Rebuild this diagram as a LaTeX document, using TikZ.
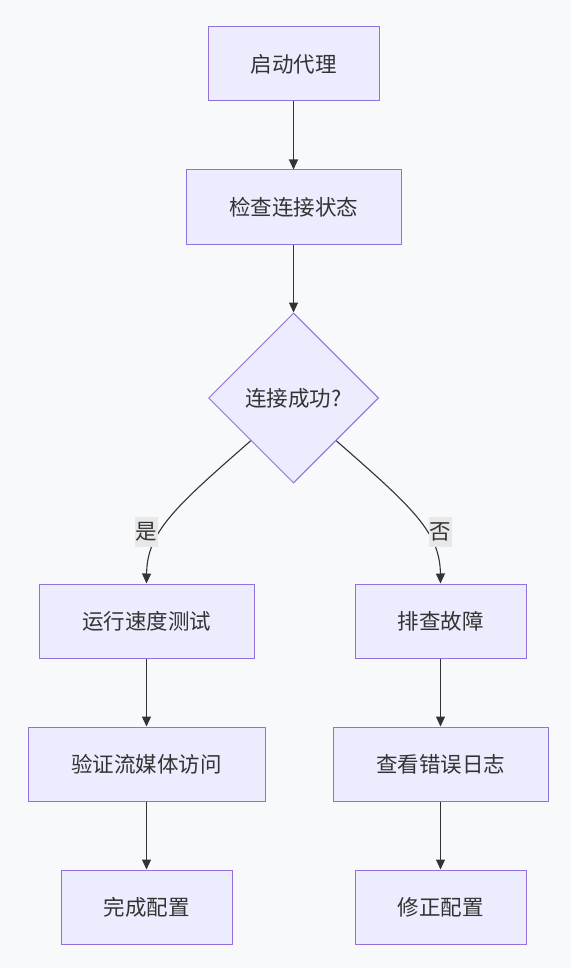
\documentclass[tikz,border=0pt]{standalone}
\usepackage{fontspec}
\setmainfont{Noto Sans CJK SC}
\usetikzlibrary{shapes.geometric,arrows.meta}
\definecolor{bgcol}{HTML}{F8F9FB}
\definecolor{boxfill}{HTML}{ECECFF}
\definecolor{boxline}{HTML}{9370DB}
\definecolor{txtcol}{HTML}{333333}
\definecolor{lblfill}{HTML}{E8E8E8}
\tikzset{
  stepbox/.style={rectangle,draw=boxline,fill=boxfill,line width=1pt,
    minimum height=74pt,text=txtcol,font=\fontsize{21.5}{26}\selectfont},
  decide/.style={diamond,draw=boxline,fill=boxfill,line width=1pt,
    minimum width=170pt,minimum height=170pt,inner sep=0pt,text=txtcol,
    font=\fontsize{21.5}{26}\selectfont},
  flow/.style={draw=txtcol,line width=1.1pt,-{Triangle[length=10pt,width=9pt]}},
  lbl/.style={fill=lblfill,text=txtcol,inner sep=1pt,minimum height=30pt,
    font=\fontsize{21.5}{26}\selectfont}
}
\begin{document}
\begin{tikzpicture}[x=1pt,y=-1pt]
    \fill[bgcol] (0,0) rectangle (571,968);
    \useasboundingbox (0,0) rectangle (571,968);
    % main column
    \node at (293.5,64) [stepbox,minimum width=171pt] (start) {启动代理};
    \node at (293.5,207) [stepbox,minimum width=215pt] (check) {检查连接状态};
    \node at (293.5,398) [decide] (ok) {连接成功?};
    % yes branch
    \node at (146.5,621) [stepbox,minimum width=215pt] (speed) {运行速度测试};
    \node at (146.5,764) [stepbox,minimum width=237pt] (media) {验证流媒体访问};
    \node at (146.5,907) [stepbox,minimum width=171pt] (done) {完成配置};
    % no branch
    \node at (440.5,621) [stepbox,minimum width=171pt] (trouble) {排查故障};
    \node at (440.5,764) [stepbox,minimum width=215pt] (logs) {查看错误日志};
    \node at (440.5,907) [stepbox,minimum width=171pt] (fix) {修正配置};
    % edges
    \draw[flow] (ok.south west) .. controls (175,507) and (147,532) .. (speed.north);
    \draw[flow] (ok.south east) .. controls (412,507) and (440,532) .. (trouble.north);
    \node at (146.5,532) [lbl] (yes) {是};
    \node at (440.5,532) [lbl] (no) {否};
    \draw[flow] (start) -- (check);
    \draw[flow] (check) -- (ok);
    \draw[flow] (speed) -- (media);
    \draw[flow] (media) -- (done);
    \draw[flow] (trouble) -- (logs);
    \draw[flow] (logs) -- (fix);
\end{tikzpicture}
\end{document}
